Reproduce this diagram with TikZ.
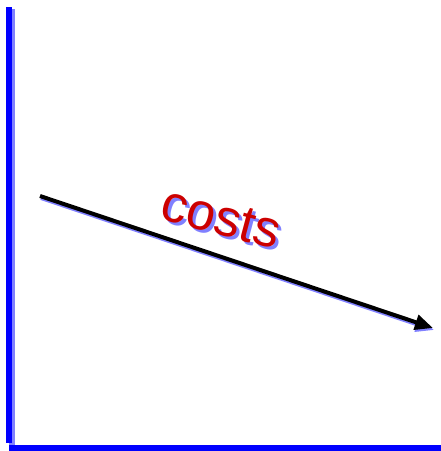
\documentclass[tikz,border=0pt]{standalone}
\usepackage{fontspec}
\setmainfont{Liberation Sans}
\usetikzlibrary{arrows.meta}
\definecolor{axisblue}{RGB}{0,0,255}
\definecolor{shadowblue}{RGB}{128,128,255}
\definecolor{textred}{RGB}{204,0,0}
\tikzset{
  axisline/.style={line width=6pt, axisblue},
  axisshadow/.style={line width=6pt, shadowblue},
  arrowline/.style={line width=4pt, -{Triangle[length=18pt,width=15pt]}},
  label/.style={font=\fontsize{52}{52}\selectfont, rotate=-15, inner sep=0pt}
}
\begin{document}
\begin{tikzpicture}[x=1pt,y=-1pt]
\useasboundingbox (0,0) rectangle (441,451);
% axes shadow
\coordinate (vtop) at (9,7);
\coordinate (vbot) at (9,443);
\coordinate (hl) at (9,448);
\coordinate (hr) at (441,448);
\draw[axisshadow] ([shift={(3,2)}]vtop) -- ([shift={(3,2)}]vbot);
\draw[axisline] (vtop) -- (vbot);
\draw[axisline] (hl) -- (hr);
% arrow
\coordinate (a) at (40,196);
\coordinate (b) at (433,328);
\draw[arrowline, shadowblue] ([shift={(1,2)}]a) -- ([shift={(1,2)}]b);
\draw[arrowline, black] (a) -- (b);
% label
\node[label, shadowblue] (ls) at (224,221) {costs};
\node[label, textred] (l) at (221,218) {costs};
\end{tikzpicture}
\end{document}
